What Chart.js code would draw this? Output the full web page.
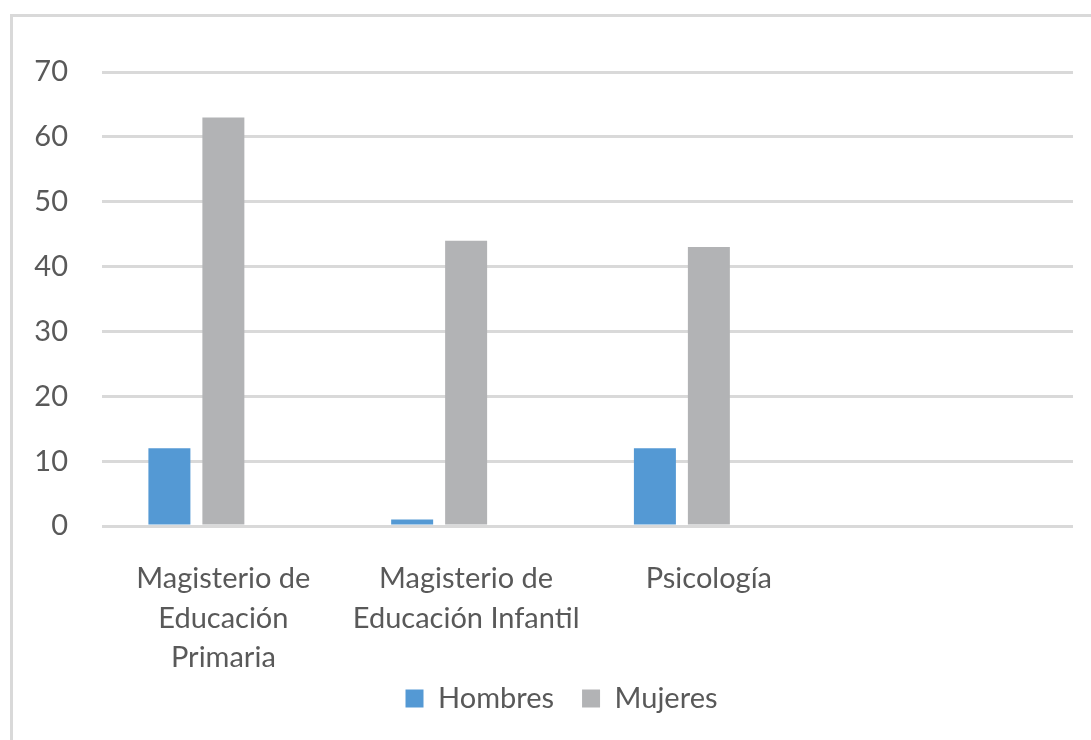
<!DOCTYPE html>
<html>
<head>
<meta charset="utf-8">
<script src="https://cdn.jsdelivr.net/npm/chart.js@4"></script>
<style>
  html, body { margin: 0; padding: 0; background: #fff; overflow: hidden; }
  #wrap { position: relative; width: 1091px; height: 740px; }
  #frame {
    position: absolute; left: 10px; top: 14px; width: 1200px; height: 800px;
    border-left: 3px solid #d9d9d9; border-top: 3px solid #d9d9d9;
  }
  canvas { position: absolute; left: 0; top: 0; }
</style>
</head>
<body>
<div id="wrap">
  <div id="frame"></div>
  <canvas id="chart" width="1091" height="740"></canvas>
</div>
<script>
'use strict';

/* ── Data ── */
const categories = [
  ['Magisterio de', 'Educación', 'Primaria'],
  ['Magisterio de', 'Educación Infantil'],
  ['Psicología'],
  ''
];
const hombres = [12, 1, 12, null];
const mujeres = [63, 44, 43, null];
const serie3  = [null, null, null, null]; // empty third series (keeps Excel spacing)
const yTicks  = [0, 10, 20, 30, 40, 50, 60, 70];

const textColor = '#595959';
const gridColor = '#d9d9d9';
const fontFam   = 'Lato, "Open Sans", sans-serif';

// legend sits a bit higher and is centred on the full (cropped) frame, like Excel
const legendShift = {
  id: 'legendShift',
  afterLayout(chart) {
    const lg = chart.legend;
    if (!lg) return;
    lg.top -= 22; lg.bottom -= 22;
    lg.left += 10; lg.right += 10;
  }
};

new Chart(document.getElementById('chart'), {
  type: 'bar',
  data: {
    labels: categories,
    datasets: [
      { label: 'Hombres', data: hombres, backgroundColor: '#5499d4' },
      { label: 'Mujeres', data: mujeres, backgroundColor: '#b2b3b5' },
      { label: '', data: serie3, backgroundColor: '#ffc000' }
    ]
  },
  plugins: [legendShift],
  options: {
    responsive: false,
    animation: false,
    categoryPercentage: 0.667,
    barPercentage: 0.778,
    layout: { padding: { left: 30, right: 18, top: 72, bottom: -5 } },
    plugins: {
      tooltip: { enabled: false },
      legend: {
        position: 'bottom',
        labels: {
          color: textColor,
          font: { family: fontFam, size: 29 },
          boxWidth: 18, boxHeight: 18,
          padding: 28,
          filter: item => item.text !== ''
        }
      }
    },
    scales: {
      x: {
        afterFit: axis => { axis.height = 152; },
        grid: { display: false, drawTicks: false },
        border: { display: false },
        ticks: {
          color: textColor,
          font: { family: fontFam, size: 29, lineHeight: 1.36 },
          maxRotation: 0, autoSkip: false, padding: 33
        }
      },
      y: {
        min: 0, max: 70,
        afterBuildTicks: axis => { axis.ticks = yTicks.map(v => ({ value: v })); },
        afterFit: axis => { axis.width = 72; },
        grid: { color: gridColor, lineWidth: 3, drawTicks: false },
        border: { display: false },
        ticks: {
          color: textColor,
          font: { family: fontFam, size: 29 },
          padding: 34
        }
      }
    }
  }
});
</script>
</body>
</html>
